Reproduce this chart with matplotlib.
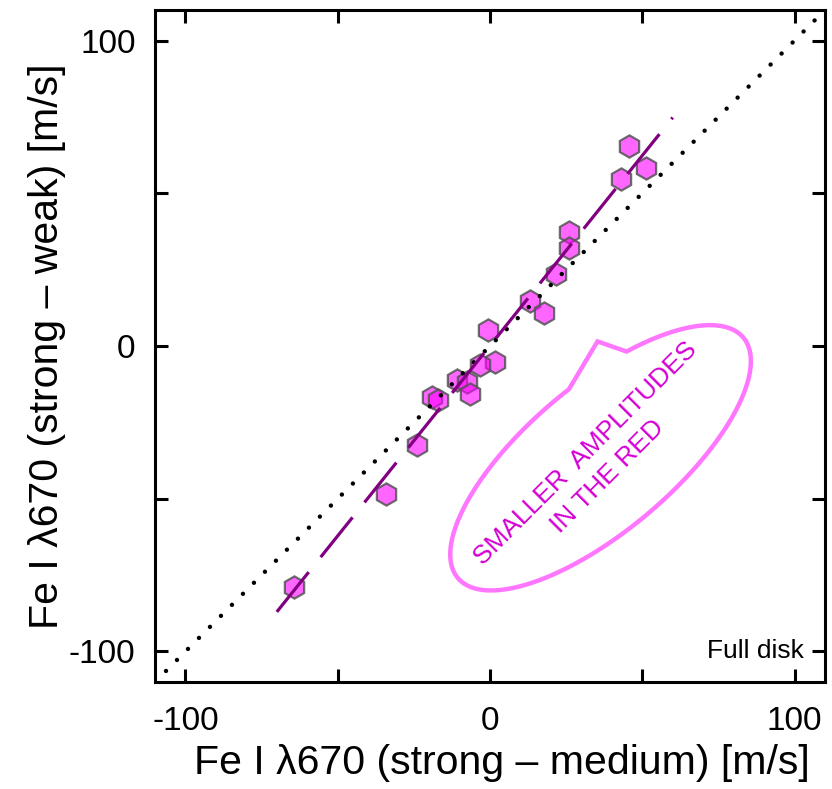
import numpy as np
import matplotlib
matplotlib.use("Agg")
import matplotlib.pyplot as plt
from matplotlib.patches import Polygon

plt.rcParams['font.family'] = ['Liberation Sans', 'DejaVu Sans']
plt.rcParams['lines.scale_dashes'] = False

# data: strong-medium (x) vs strong-weak (y), m/s
x_vals = [45.8, 51.1, 42.9, 25.8, 25.8, 21.8, 13.0, 17.6, -0.8, 1.5, -3.4,
          -10.7, -7.4, -6.7, -19.2, -17.2, -24.1, -34.0, -64.5]
y_vals = [65.5, 58.3, 54.7, 37.3, 32.0, 23.5, 14.6, 10.9, 5.4, -5.1, -6.1,
          -11.0, -11.7, -15.6, -16.6, -17.6, -32.3, -48.4, -79.0]

fit_slope = 1.245
fit_intercept = 0.1
fit_x_range = [-70.0, 60.0]

ticks = [-100, -50, 0, 50, 100]
tick_labels = ['-100', '', '0', '', '100']

xlabel = "Fe I \u03bb670 (strong \u2013 medium) [m/s]"
ylabel = "Fe I \u03bb670 (strong \u2013 weak) [m/s]"
note = "SMALLER  AMPLITUDES\nIN THE RED"
corner_text = "Full disk"

fig = plt.figure(figsize=(8.32, 7.89), dpi=100)
ax = fig.add_axes([155/832, 1-682/789, 670/832, 672/789])
ax.set_xlim(-110, 110)
ax.set_ylim(-110, 110)

ax.plot(x_vals, y_vals, linestyle='none', marker='h', markersize=16,
        markerfacecolor=(1, 0, 1, 0.6), markeredgecolor=(0.33, 0.33, 0.33, 0.85),
        markeredgewidth=1.6, zorder=2)

# one-to-one line
diag = np.array([-110, 110])
ax.plot(diag, diag, color='black', linewidth=3.2, dashes=(0.01, 11.2),
        dash_capstyle='round', zorder=3)

# linear fit
fx = np.array(fit_x_range)
ax.plot(fx, fit_intercept + fit_slope * fx, color='#800080', linewidth=2.3,
        dashes=(36.7, 13.8), dash_capstyle='butt', zorder=4)

# speech bubble
cx, cy, ea, eb, eang = 36.3, -36.6, 61.2, 24.0, 40.0
base1 = (26.1, -14.6)
apex = (35.3, 1.5)
base2 = (44.7, -2.4)
th = np.deg2rad(eang)


def param(p):
    dx, dy = p[0] - cx, p[1] - cy
    u = dx * np.cos(th) + dy * np.sin(th)
    v = -dx * np.sin(th) + dy * np.cos(th)
    return np.arctan2(v / eb, u / ea)


t1 = param(base1)
d = (param(base2) - t1) % (2 * np.pi)
if d > np.pi:
    ts = np.linspace(t1, t1 + d, 300)
else:
    ts = np.linspace(t1, t1 - (2 * np.pi - d), 300)
u = ea * np.cos(ts)
v = eb * np.sin(ts)
px = cx + u * np.cos(th) - v * np.sin(th)
py = cy + u * np.sin(th) + v * np.cos(th)
pts = np.vstack([np.column_stack([px, py]), [apex]])
ax.add_patch(Polygon(pts, closed=True, fill=False, edgecolor='#ff77ff',
                     linewidth=3.2, joinstyle='miter', zorder=1))

ax.text(35.0, -39.0, note, rotation=45, rotation_mode='anchor',
        ha='center', va='center', multialignment='center',
        fontsize=19, color='#d400d4', linespacing=1.4)

ax.text(103.0, -102.0, corner_text, ha='right', va='baseline', fontsize=19,
        color='black')

ax.set_xticks(ticks)
ax.set_yticks(ticks)
ax.set_xticklabels(tick_labels)
ax.set_yticklabels(tick_labels)
ax.tick_params(direction='in', length=9.5, width=2.2, top=True, right=True,
               labelsize=24, pad=14)
ax.tick_params(axis='x', pad=17)
for s in ax.spines.values():
    s.set_linewidth(2.2)

ax.set_xlabel(xlabel, fontsize=29.5, labelpad=5)
ax.set_ylabel(ylabel, fontsize=29.5, labelpad=2)
ax.xaxis.label.set_x(0.5 + 12/670)

fig.savefig("out.png", dpi=100)
